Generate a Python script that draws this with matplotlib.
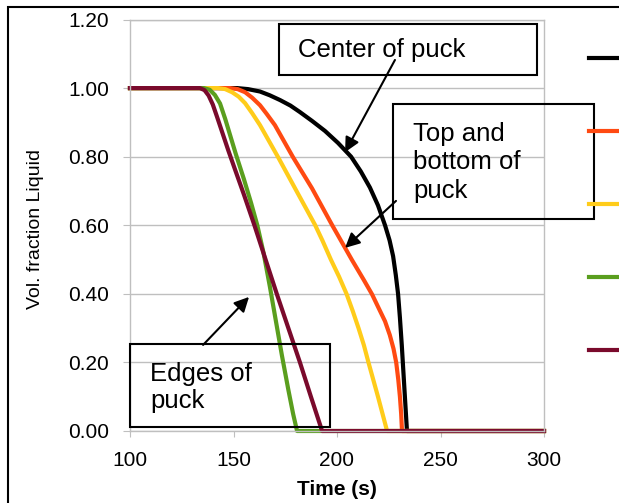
import matplotlib
matplotlib.use("Agg")
import matplotlib.pyplot as plt
from matplotlib.patches import Rectangle

plt.rcParams['font.family'] = ['Liberation Sans', 'DejaVu Sans']

# liquid fraction vs time at five locations in the puck
series_names = ["Center", "Top", "Bottom", "Edge 1", "Edge 2"]
series_colors = ["#000000", "#FF4A12", "#FFCC1A", "#5A9E1E", "#7A0A2C"]

t_center = [100, 151.7, 157, 162.8, 167.5, 172.5, 177.5, 182.1, 188, 194.2, 200.5, 206.8,
            211.5, 215.9, 219.8, 223.2, 225.4, 227.1, 228.4, 229.5, 230.4, 231.3,
            232.1, 232.9, 233.8, 300]
y_center = [1.0, 1.0, 0.997, 0.99, 0.979, 0.965, 0.949, 0.93, 0.904, 0.875, 0.84, 0.80,
            0.757, 0.71, 0.658, 0.60, 0.556, 0.51, 0.455, 0.40, 0.33, 0.25,
            0.17, 0.09, 0.0, 0.0]

t_top = [100, 148.3, 152, 155.6, 159, 162.8, 166, 170.0, 178.7, 187.9, 197.6, 207.2,
         213, 216.9, 220, 223.2, 225.5, 227.3, 228.6, 229.6, 230.4, 231.0, 231.4, 300]
y_top = [1.0, 1.0, 0.997, 0.988, 0.972, 0.95, 0.925, 0.892, 0.799, 0.708, 0.601, 0.499,
         0.44, 0.399, 0.36, 0.32, 0.28, 0.24, 0.20, 0.15, 0.10, 0.05, 0.0, 0.0]

t_bottom = [100, 142.5, 146, 149.3, 152.5, 155.6, 159, 162.8, 171.5, 180.7, 189.4, 193,
            197.1, 201, 204.6, 207.6, 210.4, 213, 215.2, 217.5, 219.8, 222, 224.2, 300]
y_bottom = [1.0, 1.0, 0.997, 0.988, 0.975, 0.956, 0.927, 0.892, 0.799, 0.697, 0.601, 0.555,
            0.499, 0.45, 0.40, 0.35, 0.30, 0.25, 0.20, 0.15, 0.10, 0.05, 0.0, 0.0]

t_edge1 = [100, 135.7, 138.5, 141, 143.5, 146, 148.5, 151, 155, 158.5, 161.5, 164.5,
           167.6, 170.5, 173.4, 176.5, 178.8, 180.7, 300]
y_edge1 = [1.0, 1.0, 0.995, 0.98, 0.955, 0.91, 0.86, 0.81, 0.735, 0.665, 0.60, 0.52,
           0.42, 0.32, 0.22, 0.12, 0.05, 0.0, 0.0]

t_edge2 = [100, 133.8, 136, 138, 140, 142, 144.5, 147.5, 151, 155, 160.1, 165.5,
           170.9, 176.5, 182.1, 187.4, 192.8, 300]
y_edge2 = [1.0, 1.0, 0.994, 0.978, 0.952, 0.917, 0.872, 0.818, 0.758, 0.69, 0.60, 0.50,
           0.40, 0.30, 0.20, 0.10, 0.0, 0.0]

times = [t_center, t_top, t_bottom, t_edge1, t_edge2]
fracs = [y_center, y_top, y_bottom, y_edge1, y_edge2]

x_ticks = [100, 150, 200, 250, 300]
y_ticks = [0.0, 0.2, 0.4, 0.6, 0.8, 1.0, 1.2]

grey = "#BFBFBF"

fig = plt.figure(figsize=(6.19, 5.03), dpi=100)
ax = fig.add_axes([130 / 619, 1 - 431 / 503, 414 / 619, 411.5 / 503])

lines = []
for t, y, c, name in zip(times, fracs, series_colors, series_names):
    ln, = ax.plot(t, y, color=c, lw=3.0, label=name, clip_on=False,
                  solid_joinstyle='round')
    lines.append(ln)

ax.set_xlim(100, 300)
ax.set_ylim(0, 1.2)
ax.set_xticks(x_ticks)
ax.set_yticks(y_ticks)
ax.set_yticklabels(["%.2f" % v for v in y_ticks])
ax.yaxis.grid(True, color=grey, lw=1.0)
ax.set_axisbelow(True)
for s in ax.spines.values():
    s.set_color(grey)
    s.set_linewidth(1.0)
ax.tick_params(axis='both', colors=grey, labelcolor='black', labelsize=15)
ax.tick_params(axis='x', length=4.5, pad=10)
ax.tick_params(axis='y', length=5, pad=10)

ax.set_xlabel("Time (s)", fontsize=15, fontweight='bold')
ax.xaxis.set_label_coords(0.5, -0.118)
ax.set_ylabel("Vol. fraction Liquid", fontsize=14,
              family=['Liberation Sans Narrow', 'Liberation Sans'])
ax.yaxis.set_label_coords(-0.208, 0.49)

# annotation boxes (transparent, black outline)
boxes = [(172.0, 1.038, 124.6, 0.149),
         (227.1, 0.618, 97.1, 0.335),
         (100.0, 0.012, 96.6, 0.242)]
for x0, y0, w, h in boxes:
    ax.add_patch(Rectangle((x0, y0), w, h, fill=False, ec='black', lw=1.5,
                           clip_on=False, zorder=5))

txt = dict(fontsize=18.5, color='black', ha='left', va='center', zorder=6)
ax.text(181.2, 1.111, "Center of puck", **txt)
ax.text(236.7, 0.783, "Top and\nbottom of\npuck", linespacing=1.25, **txt)
ax.text(109.7, 0.127, "Edges of\npuck", linespacing=1.15, **txt)

arrow = dict(arrowstyle='-|>', color='black', lw=1.5, mutation_scale=22,
             shrinkA=0, shrinkB=0)
ax.annotate("", xy=(203.9, 0.813), xytext=(228.0, 1.082), arrowprops=arrow,
            annotation_clip=False)
ax.annotate("", xy=(203.9, 0.534), xytext=(228.5, 0.671), arrowprops=arrow,
            annotation_clip=False)
ax.annotate("", xy=(157.5, 0.391), xytext=(135.3, 0.251), arrowprops=arrow,
            annotation_clip=False)

# legend keys sit at the right edge; their labels run past the figure
fig.legend(handles=lines, labels=[""] * len(lines), loc='upper left',
           bbox_to_anchor=(589 / 619, 1 - 51.1 / 503), frameon=False,
           borderpad=0, borderaxespad=0, fontsize=14, handlelength=3,
           labelspacing=2.85)

# outer chart border
fig.patches.append(Rectangle((8 / 619, -0.1), 1.2, 1.1 - 7 / 503,
                             transform=fig.transFigure, fill=False,
                             ec='black', lw=1.5))

fig.savefig("out.png", dpi=100)
